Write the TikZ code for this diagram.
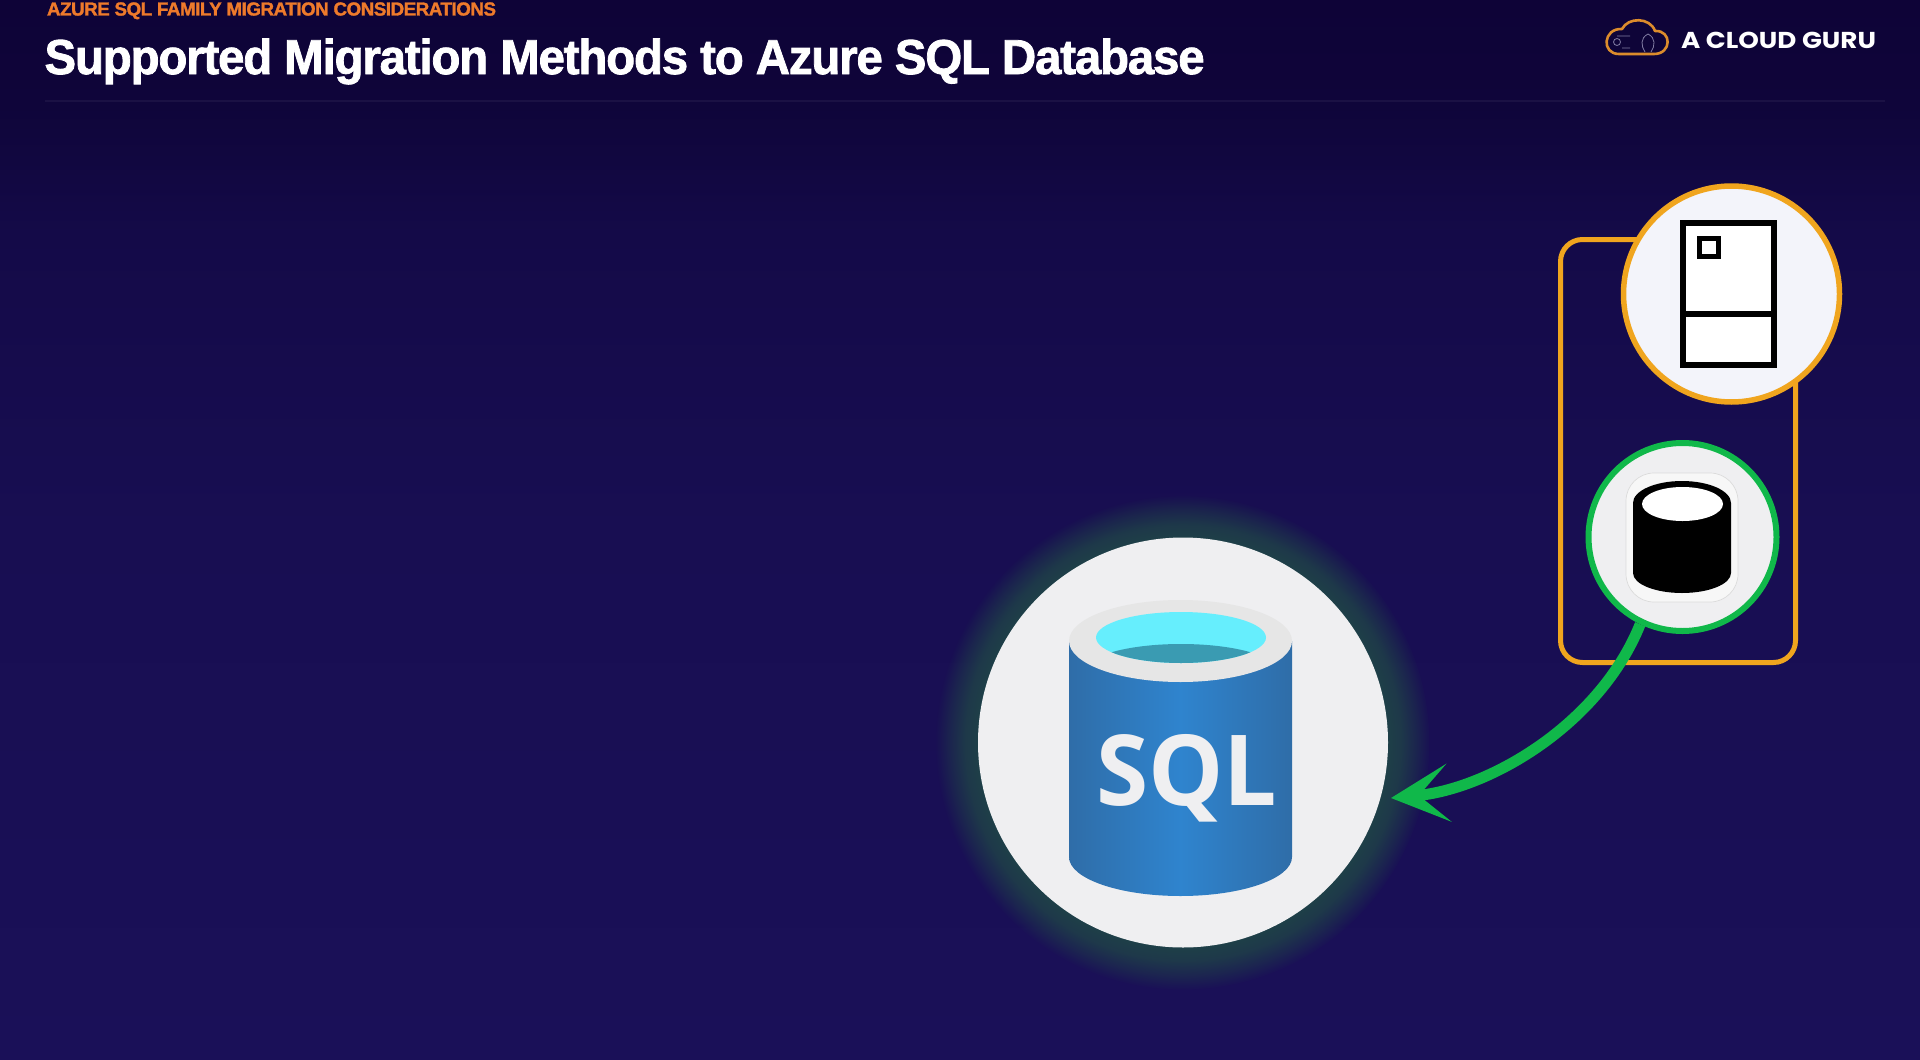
\documentclass[tikz,border=0pt]{standalone}
\usepackage{fontspec}
\usetikzlibrary{arrows.meta,shapes.geometric,fadings}
\setmainfont{Liberation Sans}
\newfontfamily\heavyfont[UprightFont=* Bold,FakeBold=1.6,LetterSpace=-2.5]{Liberation Sans}
\newfontfamily\sqlfont{Open Sans}
\newfontfamily\logofont{Poppins}
\definecolor{bgtop}{HTML}{0E0337}
\definecolor{bgup}{HTML}{0F053A}
\definecolor{bgupper}{HTML}{140A48}
\definecolor{bgmid}{HTML}{180E52}
\definecolor{bgbot}{HTML}{1A1058}
\definecolor{glowc}{HTML}{1F4048}
\definecolor{amberc}{HTML}{F0A51E}
\definecolor{greenc}{HTML}{10B84A}
\definecolor{orangec}{HTML}{EE7A2B}
\definecolor{paperc}{HTML}{EFEFF1}
\definecolor{paperb}{HTML}{F3F4FA}
\definecolor{rimc}{HTML}{E6E6E6}
\definecolor{aquac}{HTML}{66EEFD}
\definecolor{tealc}{HTML}{3A9BB2}
\definecolor{blueedge}{HTML}{2F6DA8}
\definecolor{bluemid}{HTML}{2F84CE}
\definecolor{logoc}{HTML}{DC8C2C}
% a shaded path fills the middle 50bp of the 100bp declared square
\pgfdeclareverticalshading{bgv}{100bp}{color(0bp)=(bgbot); color(25bp)=(bgbot); color(50bp)=(bgmid); color(64bp)=(bgupper); color(70bp)=(bgup); color(75bp)=(bgtop); color(100bp)=(bgtop)}
\pgfdeclareradialshading{halomask}{\pgfpointorigin}{color(0bp)=(pgftransparent!0); color(20.6bp)=(pgftransparent!0); color(22bp)=(pgftransparent!15); color(23.5bp)=(pgftransparent!55); color(25bp)=(pgftransparent!100); color(50bp)=(pgftransparent!100)}
\pgfdeclarefading{halofade}{\pgfuseshading{halomask}}
\tikzset{
  ringnode/.style={circle,inner sep=0pt,outer sep=0pt},
  titletext/.style={anchor=base west,inner sep=0pt,outer sep=0pt},
  iconline/.style={draw=black,line width=5.5pt,fill=white}
}
\begin{document}
\begin{tikzpicture}[x=1pt,y=-1pt]
\useasboundingbox (0,0) rectangle (1920,1060);
\shade[shading=bgv] (0,0) rectangle (1920,1060);
% header
\draw[color=white,line width=1.5pt,opacity=.05] (45,101) -- (1885,101);
\node[titletext,text=orangec,font=\heavyfont\fontsize{18.8}{20}\selectfont] (kicker) at (47,15.5) {\resizebox{449pt}{\height}{AZURE SQL FAMILY MIGRATION CONSIDERATIONS}};
\node[titletext,text=white,font=\heavyfont\fontsize{49}{54}\selectfont] (title) at (44.5,74) {\resizebox{1160pt}{\height}{Supported Migration Methods to Azure SQL Database}};
% logo
\draw[logoc,line width=2.6pt,line join=round] (1619,54) -- (1654,54) .. controls (1672,54) and (1672,30) .. (1655,31) .. controls (1650,17) and (1628,17) .. (1622,29) .. controls (1603,28) and (1601,54) .. (1619,54) -- cycle;
\draw[white!45!bgbot,line width=.8pt] (1648,34) .. controls (1640,38) and (1641,46) .. (1645,52) (1648,34) .. controls (1656,38) and (1655,46) .. (1651,52) (1617,36) -- (1630,36) (1617,42) circle (3.5pt) (1622,48) -- (1630,48);
\node[titletext,text=white,font=\logofont\bfseries\fontsize{23}{26}\selectfont] (logo) at (1681,48.5) {\resizebox{195pt}{\height}{A CLOUD GURU}};
% large SQL circle with halo
\fill[glowc,path fading=halofade] (1183,742.5) circle (247pt);
\node[ringnode,fill=paperc,minimum size=410pt] (sqlnode) at (1183,742.5) {};
\shade[left color=blueedge,right color=blueedge,middle color=bluemid] (1069,641) -- (1069,857) arc[start angle=180,end angle=360,x radius=111.5pt,y radius=39pt] -- (1292,641) -- cycle;
\fill[rimc] (1180.5,641) ellipse [x radius=111.5pt,y radius=41pt];
\fill[aquac] (1181,637.5) ellipse [x radius=85pt,y radius=25.5pt];
\begin{scope}
\clip (1181,637.5) ellipse [x radius=85pt,y radius=25.5pt];
\fill[tealc] (1181,670) ellipse [x radius=95pt,y radius=26pt];
\end{scope}
\node[titletext,text=paperc,font=\sqlfont\bfseries\fontsize{98}{110}\selectfont] (sqllabel) at (1096,805) {\resizebox{181pt}{\height}{SQL}};
% group frame
\node[draw=amberc,line width=5pt,rounded corners=22pt,minimum width=235pt,minimum height=423pt,inner sep=0pt,outer sep=0pt] (frame) at (1678,451) {};
% upper circle with document icon
\node[ringnode,draw=amberc,line width=5.5pt,fill=paperb,minimum size=216pt] (vmnode) at (1731.5,294) {};
\draw[iconline] (1683,223) rectangle (1774,365);
\draw[black,line width=6pt] (1683,314) -- (1774,314);
\draw[iconline,line width=5pt] (1699.5,238.5) rectangle (1718.5,256.5);
% lower circle with database icon
\node[ringnode,draw=greenc,line width=6pt,fill=paperc,minimum size=188pt] (dbnode) at (1682.5,537) {};
\fill[white!97!black,draw=black!14,line width=.7pt,rounded corners=28pt] (1626,473) rectangle (1738,602);
\fill[black] (1633,503) arc[start angle=180,end angle=0,x radius=49pt,y radius=22pt] -- (1731,573) arc[start angle=360,end angle=180,x radius=49pt,y radius=20pt] -- cycle;
\fill[white] (1682.5,504) ellipse [x radius=40.5pt,y radius=17pt];
% connector
\draw[greenc,line width=11pt,shorten <=3pt,shorten >=11pt,-{Stealth[length=58pt,width=58pt,inset=30pt]}] (dbnode.244.7) .. controls (1600,724) and (1490,789) .. (sqlnode.-16.1);
\end{tikzpicture}
\end{document}
